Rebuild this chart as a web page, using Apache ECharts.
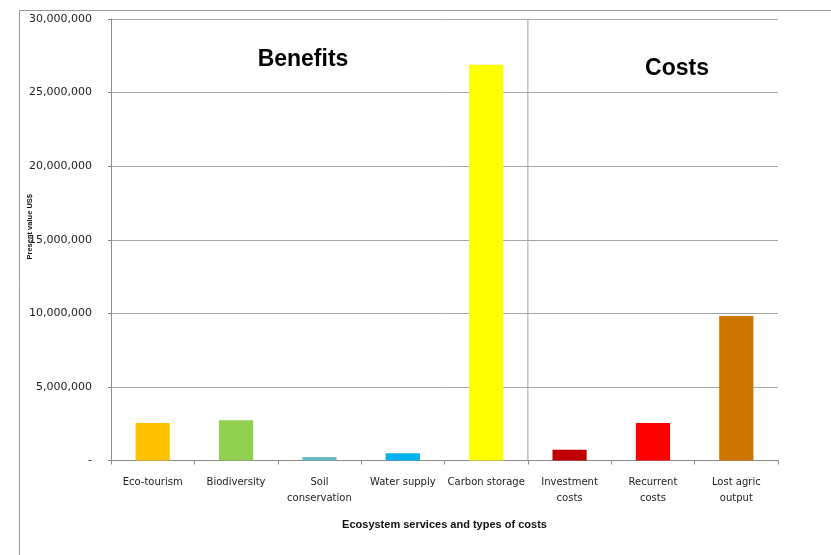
<!DOCTYPE html>
<html>
<head>
<meta charset="utf-8">
<script src="https://cdn.jsdelivr.net/npm/echarts@6/dist/echarts.min.js"></script>
<style>html,body{margin:0;padding:0;background:#fff}#c{width:831px;height:555px}</style>
</head>
<body>
<div id="c"></div>
<script>
const categories = ['Eco-tourism', 'Biodiversity', 'Soil\nconservation', 'Water supply', 'Carbon storage', 'Investment\ncosts', 'Recurrent\ncosts', 'Lost agric\noutput'];
const values = [2550000, 2730000, 240000, 490000, 26890000, 730000, 2550000, 9820000];
const barColors = ['#FFC000', '#92D050', '#66BBC4', '#00B0F0', '#FFFF00', '#C00000', '#FF0000', '#CC7400'];
const yTicks = [0, 5000000, 10000000, 15000000, 20000000, 25000000, 30000000];
const dividerPos = 5; // boundary between benefits and costs (category index)
const sectionTitles = ['Benefits', 'Costs'];

const chart = echarts.init(document.getElementById('c'), null, {renderer: 'canvas'});
const fmt = v => v === 0 ? '-' : v.toLocaleString('en-US');

chart.setOption({
  animation: false,
  backgroundColor: '#fff',
  grid: {left: 111, right: 53, top: 19, bottom: 94.5, containLabel: false},
  xAxis: [{
    type: 'category',
    data: categories,
    name: 'Ecosystem services and types of costs',
    nameLocation: 'middle',
    nameGap: 59,
    nameMoveOverlap: false,
    nameTextStyle: {fontFamily: 'Liberation Sans', fontWeight: 'bold', fontSize: 11, color: '#111'},
    axisLine: {lineStyle: {color: '#8a8a8a', width: 1}},
    axisTick: {show: true, interval: 0, length: 4, lineStyle: {color: '#8a8a8a'}},
    axisLabel: {interval: 0, margin: 14, fontFamily: 'DejaVu Sans', fontSize: 10, color: '#222', lineHeight: 16},
    splitLine: {show: false}
  }, {
    type: 'value', min: 0, max: 8, show: false
  }],
  yAxis: {
    type: 'value',
    min: 0, max: 30000000, interval: 5000000,
    name: 'Present value US$',
    nameLocation: 'middle',
    nameRotate: 90,
    nameGap: 77,
    nameMoveOverlap: false,
    nameTextStyle: {fontFamily: 'Liberation Sans', fontWeight: 'bold', fontSize: 7.5, color: '#111', padding: [0, 0, 0, 26]},
    axisLine: {show: true, lineStyle: {color: '#8a8a8a', width: 1}},
    axisTick: {show: true, length: 3, lineStyle: {color: '#8a8a8a'}},
    axisLabel: {margin: 19, fontFamily: 'DejaVu Sans', fontSize: 11, color: '#222', formatter: v => yTicks.includes(v) ? fmt(v) : ''},
    splitLine: {show: true, lineStyle: {color: '#a6a6a6', width: 1}}
  },
  graphic: [
    {type: 'rect', shape: {x: 19.5, y: 10.5, width: 900, height: 700}, style: {fill: 'none', stroke: '#999', lineWidth: 1}, z: -10},
    {type: 'text', x: 303, y: 60, style: {text: sectionTitles[0], fontFamily: 'Liberation Sans', fontWeight: 'bold', fontSize: 23, fill: '#000', textAlign: 'center', textVerticalAlign: 'middle'}},
    {type: 'text', x: 677, y: 69, style: {text: sectionTitles[1], fontFamily: 'Liberation Sans', fontWeight: 'bold', fontSize: 23, fill: '#000', textAlign: 'center', textVerticalAlign: 'middle'}}
  ],
  series: [{
    type: 'bar',
    data: values.map((v, i) => ({value: v, itemStyle: {color: barColors[i]}})),
    barWidth: '41%',
    z: 3
  }, {
    type: 'line',
    xAxisIndex: 1,
    data: [[dividerPos, 0], [dividerPos, 30000000]],
    symbol: 'none',
    lineStyle: {color: '#a0a0a0', width: 1},
    z: 2
  }]
});
</script>
</body>
</html>
